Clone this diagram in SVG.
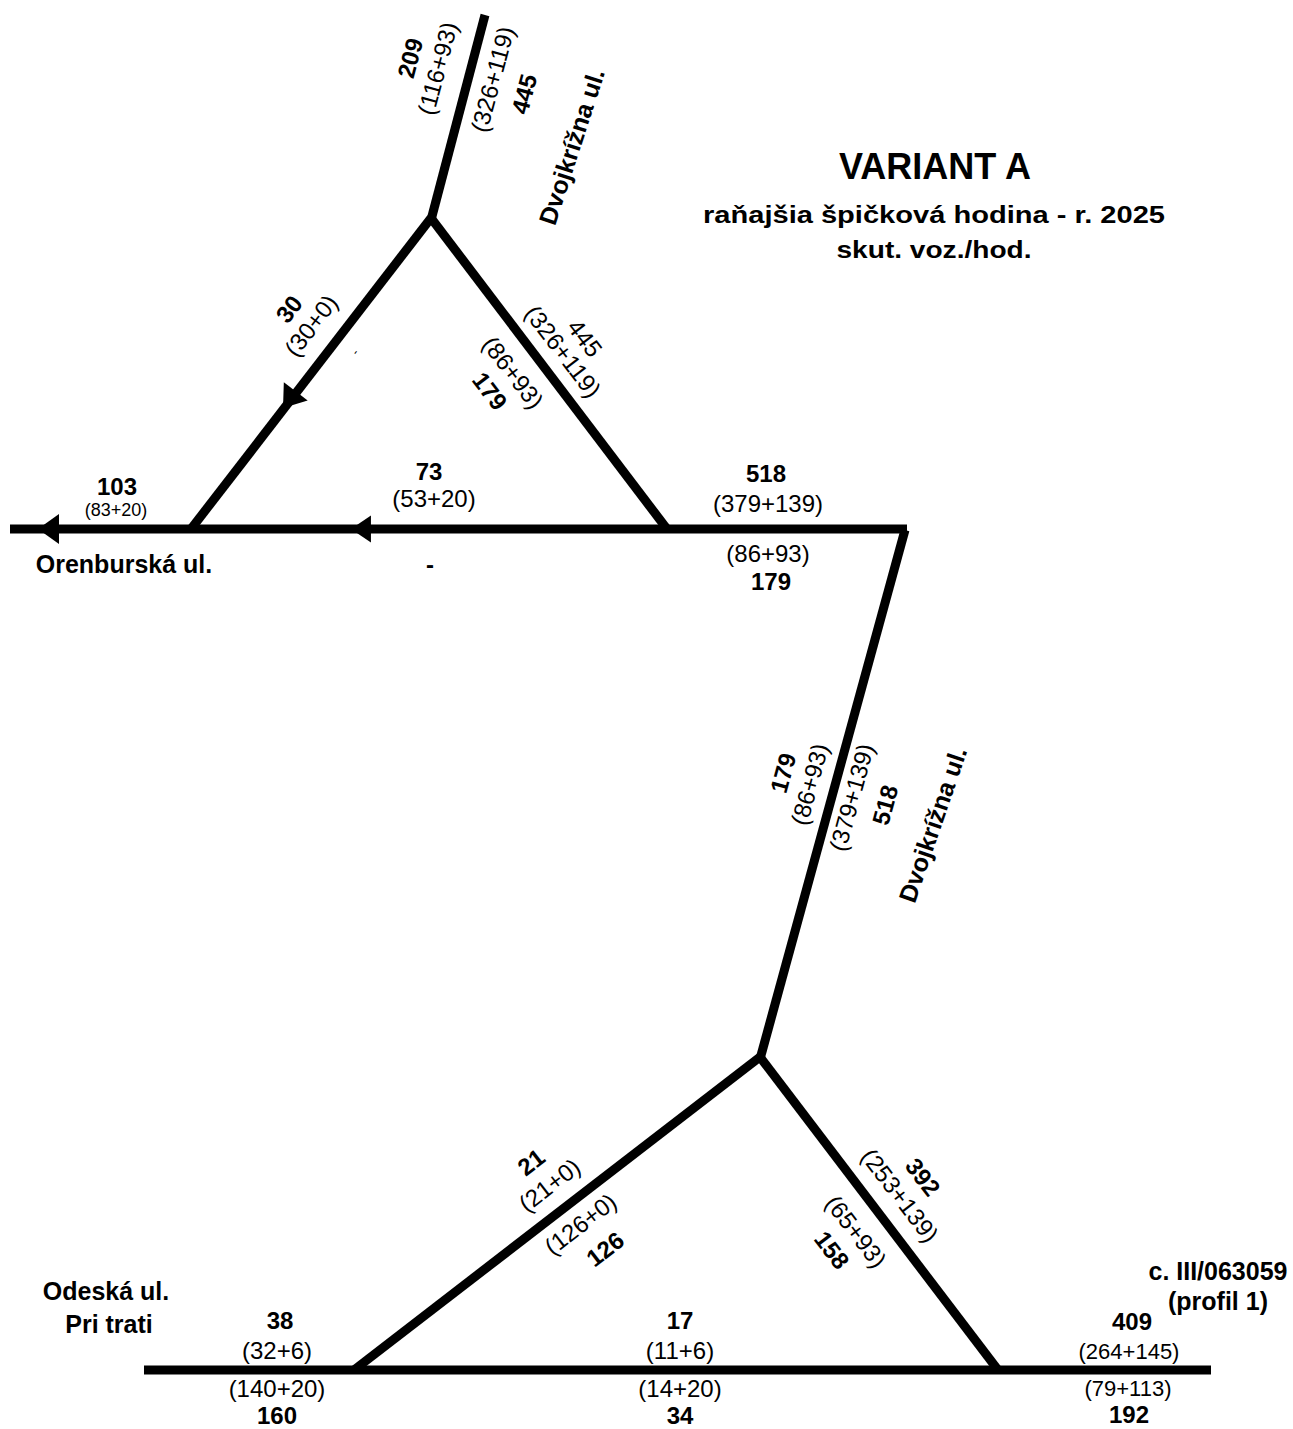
<svg xmlns="http://www.w3.org/2000/svg" xmlns:xlink="http://www.w3.org/1999/xlink" width="1293" height="1429" viewBox="0 0 1293 1429">
<style>
text{font-family:"Liberation Sans",Arial,sans-serif;fill:#000;text-anchor:middle}
.b{font-size:24px;font-weight:bold}
.n{font-size:24px}
.s{font-size:18px}
.st{font-size:25px;font-weight:bold}
.road{stroke:#000;stroke-width:9;fill:none;stroke-linecap:butt}
</style>
<defs>
<path id="ah" d="M0,0 L21,-15 L21,15 Z" fill="#000"/>
</defs>
<rect width="1293" height="1429" fill="#fff"/>
<g id="connectors">
<line class="road" x1="485" y1="15" x2="431" y2="220"/>
<line class="road" x1="431" y1="218" x2="191" y2="529"/>
<line class="road" x1="431" y1="218" x2="667" y2="529"/>
<line class="road" x1="10" y1="529" x2="907" y2="529"/>
<line class="road" x1="905" y1="530" x2="760" y2="1059"/>
<line class="road" x1="760" y1="1057" x2="354" y2="1370"/>
<line class="road" x1="760" y1="1057" x2="998" y2="1370"/>
<line class="road" x1="144" y1="1370" x2="1211" y2="1370"/>
<use xlink:href="#ah" href="#ah" transform="translate(38,529)"/>
<use xlink:href="#ah" href="#ah" transform="translate(351,529) scale(0.95,0.9)"/>
<use xlink:href="#ah" href="#ah" transform="translate(283,408) rotate(-52.6)"/>
</g>
<g id="title">
<text class="b" x="935" y="179" style="font-size:36px">VARIANT A</text>
<text class="b" x="934" y="223" style="font-size:23px" textLength="462" lengthAdjust="spacingAndGlyphs">raňajšia špičková hodina - r. 2025</text>
<text class="b" x="934" y="258" style="font-size:23px" textLength="195" lengthAdjust="spacingAndGlyphs">skut. voz./hod.</text>
</g>
<g id="node-top-road">
<g transform="translate(410,58) rotate(-75)"><text class="b" y="8.6">209</text></g>
<g transform="translate(440,69) rotate(-75)"><text class="n" y="6">(116+93)</text></g>
<g transform="translate(495,80) rotate(-75)"><text class="n" y="6">(326+119)</text></g>
<g transform="translate(524,94) rotate(-75)"><text class="b" y="8.6">445</text></g>
<g transform="translate(573,147) rotate(-72)"><text class="st" y="7.5">Dvojkrížna ul.</text></g>
</g>
<g id="node-left-leg">
<g transform="translate(289,309) rotate(-52.6)"><text class="b" y="8.6">30</text></g>
<g transform="translate(313,327) rotate(-52.6)"><text class="n" y="6">(30+0)</text></g>
<g transform="translate(355,352) rotate(-52.6)"><text style="font-size:12px" y="4">-</text></g>
</g>
<g id="node-right-leg">
<g transform="translate(585,338) rotate(52.7)"><text class="n" y="8.6">445</text></g>
<g transform="translate(561,353) rotate(52.7)"><text class="n" y="6">(326+119)</text></g>
<g transform="translate(511,374) rotate(52.7)"><text class="n" y="6">(86+93)</text></g>
<g transform="translate(490,391) rotate(52.7)"><text class="b" y="8.6">179</text></g>
</g>
<g id="node-orenburska">
<text class="b" x="117" y="495">103</text>
<text class="s" x="116" y="516">(83+20)</text>
<text class="st" x="124" y="573">Orenburská ul.</text>
<text class="b" x="429" y="480">73</text>
<text class="n" x="434" y="507">(53+20)</text>
<text class="b" x="430" y="573">-</text>
</g>
<g id="node-junction-east">
<text class="b" x="766" y="482">518</text>
<text class="n" x="768" y="512">(379+139)</text>
<text class="n" x="768" y="562">(86+93)</text>
<text class="b" x="771" y="590">179</text>
</g>
<g id="node-dvojkrizna-south">
<g transform="translate(783,773) rotate(-74.7)"><text class="b" y="8.6">179</text></g>
<g transform="translate(812,785) rotate(-74.7)"><text class="n" y="6">(86+93)</text></g>
<g transform="translate(854,798) rotate(-74.7)"><text class="n" y="6">(379+139)</text></g>
<g transform="translate(885,805) rotate(-74.7)"><text class="b" y="8.6">518</text></g>
<g transform="translate(934,825) rotate(-71)"><text class="st" y="7.5">Dvojkrížna ul.</text></g>
</g>
<g id="node-bottom-left-leg">
<g transform="translate(531,1162) rotate(-37.7)"><text class="b" y="8.6">21</text></g>
<g transform="translate(551,1187) rotate(-37.7)"><text class="n" y="6">(21+0)</text></g>
<g transform="translate(582,1226) rotate(-37.7)"><text class="n" y="6">(126+0)</text></g>
<g transform="translate(605,1249) rotate(-37.7)"><text class="b" y="8.6">126</text></g>
</g>
<g id="node-bottom-right-leg">
<g transform="translate(923,1177) rotate(52.7)"><text class="b" y="8.6">392</text></g>
<g transform="translate(898,1197) rotate(52.7)"><text class="n" y="6">(253+139)</text></g>
<g transform="translate(854,1233) rotate(52.7)"><text class="n" y="6">(65+93)</text></g>
<g transform="translate(832,1250) rotate(52.7)"><text class="b" y="8.6">158</text></g>
</g>
<g id="node-odeska">
<text class="st" x="106" y="1300">Odeská ul.</text>
<text class="st" x="109" y="1333">Pri trati</text>
<text class="b" x="280" y="1329">38</text>
<text class="n" x="277" y="1359">(32+6)</text>
<text class="n" x="277" y="1397">(140+20)</text>
<text class="b" x="277" y="1424">160</text>
</g>
<g id="node-middle-bottom">
<text class="b" x="680" y="1329">17</text>
<text class="n" x="680" y="1359">(11+6)</text>
<text class="n" x="680" y="1397">(14+20)</text>
<text class="b" x="680" y="1424">34</text>
</g>
<g id="node-profil1">
<text class="st" x="1218" y="1280">c. III/063059</text>
<text class="st" x="1218" y="1310">(profil 1)</text>
<text class="b" x="1132" y="1330">409</text>
<text class="n" x="1129" y="1359" style="font-size:22px">(264+145)</text>
<text class="n" x="1128" y="1396" style="font-size:22px">(79+113)</text>
<text class="b" x="1129" y="1423">192</text>
</g>
</svg>
